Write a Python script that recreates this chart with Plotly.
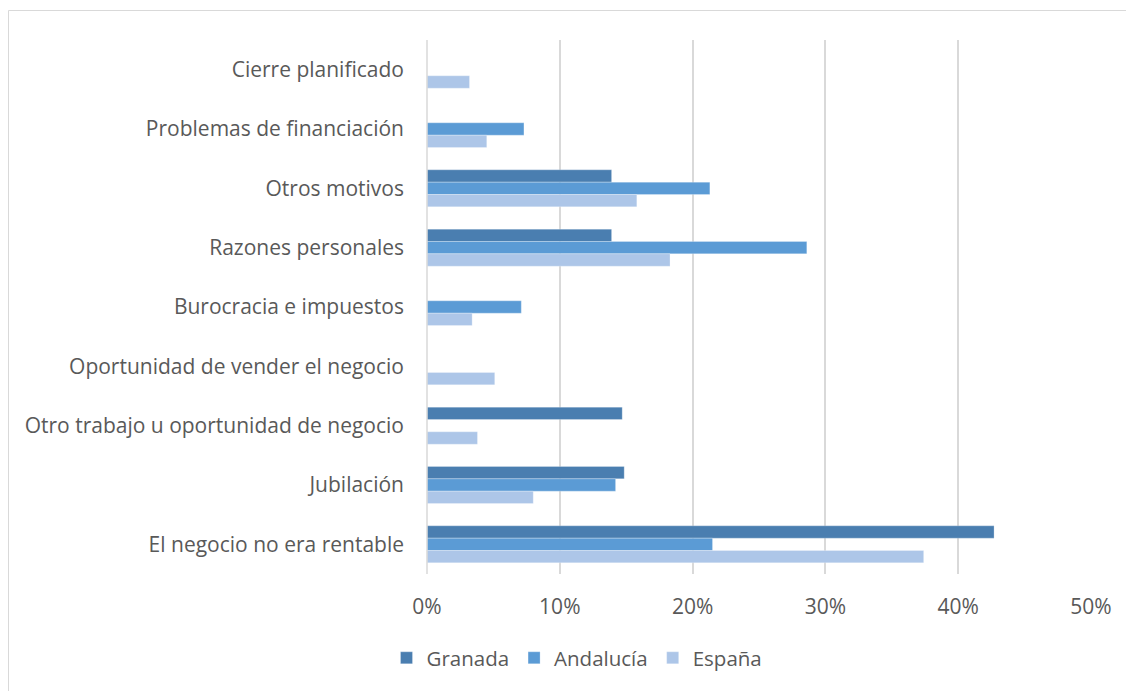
import plotly.graph_objects as go

categories = [
    "Cierre planificado",
    "Problemas de financiación",
    "Otros motivos",
    "Razones personales",
    "Burocracia e impuestos",
    "Oportunidad de vender el negocio",
    "Otro trabajo u oportunidad de negocio",
    "Jubilación",
    "El negocio no era rentable",
]
granada = [None, None, 13.9, 13.9, None, None, 14.7, 14.85, 42.7]
andalucia = [None, 7.3, 21.3, 28.6, 7.1, None, None, 14.2, 21.5]
espana = [3.2, 4.5, 15.8, 18.3, 3.4, 5.1, 3.8, 8.0, 37.4]
x_ticks = [0, 10, 20, 30, 40, 50]
x_tick_labels = ["0%", "10%", "20%", "30%", "40%", "50%"]

series = [("Granada", granada, "#4A7EB0"),
          ("Andalucía", andalucia, "#5B9BD5"),
          ("España", espana, "#ADC6E8")]

OFF = 8  # page offset of the figure
W, H = 1134, 691
L, R, T, B = 427 - OFF, 43 + OFF, 40 - OFF, 117 + OFF
pw, ph = W - L - R, H - T - B

def px(x):
    return (x - OFF - L) / pw

def py(y):
    return (H - B - (y - OFF)) / ph

fig = go.Figure()
for name, vals, col in series:
    fig.add_trace(go.Bar(
        y=categories, x=vals, name=name, orientation="h",
        marker=dict(color=col, line=dict(color="rgba(255,255,255,0.5)", width=0.5)),
    ))

font_family = "Open Sans, sans-serif"
fig.update_layout(
    width=W, height=H,
    margin=dict(l=L, r=R, t=T, b=B, pad=0),
    paper_bgcolor="white", plot_bgcolor="white",
    barmode="group", bargap=0.376, bargroupgap=0,
    font=dict(family=font_family, size=21, color="#595959"),
    xaxis=dict(range=[0, 50], tickvals=x_ticks, ticktext=x_tick_labels,
               showgrid=True, gridcolor="#D9D9D9", gridwidth=1.5,
               zeroline=False, showline=False, ticks="",
               ticklabelstandoff=18, fixedrange=True),
    yaxis=dict(categoryorder="array", categoryarray=categories,
               autorange="reversed", showgrid=False, zeroline=False,
               showline=False, ticks="", ticklabelstandoff=22),
    legend=dict(orientation="h", x=px(577), xanchor="center",
                y=py(658), yanchor="middle", font=dict(size=20.5),
                itemwidth=30, traceorder="normal"),
    showlegend=True,
)
fig.add_shape(type="line", xref="paper", yref="paper",
              x0=0, x1=0, y0=0, y1=1, line=dict(color="#D9D9D9", width=1.5))
fig.add_shape(type="rect", xref="paper", yref="paper",
              x0=px(8.5), x1=px(1160), y0=py(720), y1=py(10.5),
              line=dict(color="#D9D9D9", width=1), layer="below")

fig.write_html("out.html")
